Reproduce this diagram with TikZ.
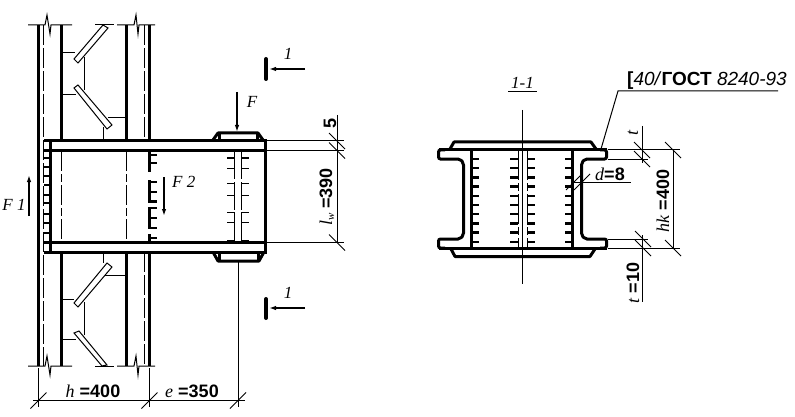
\documentclass[tikz,border=0pt]{standalone}
\usepackage{fontspec}
\setmainfont{Liberation Sans}
\newfontfamily\letterfont{Liberation Serif}
\usetikzlibrary{arrows.meta}
\tikzset{
  thickline/.style={line width=3pt},
  midline/.style={line width=2.3pt},
  thinline/.style={line width=1pt},
  dashline/.style={line width=1pt,dash pattern=on 20pt off 3pt on 8pt off 3pt},
  forceline/.style={line width=2pt,-{Latex[length=7pt,width=4.5pt]}},
  lab/.style={inner sep=0pt,font=\fontsize{18}{18}\selectfont\bfseries},
  letter/.style={inner sep=0pt,font=\fontsize{17}{17}\selectfont\letterfont\itshape}
}
% slanted dimension ticks
\newcommand{\ticka}[2]{\draw[thinline] (#1-8,#2+8) -- (#1+8,#2-8);}
\newcommand{\tickb}[2]{\draw[thinline] (#1-8,#2-8) -- (#1+8,#2+8);}
\newcommand{\lett}[1]{{\mdseries\letterfont\itshape #1}}
\begin{document}
\begin{tikzpicture}[x=1pt,y=-1pt]
\useasboundingbox (0,0) rectangle (795,417);
% columns
\foreach \xa in {38.5,61.5,126.5,149.5} {
  \draw[thickline] (\xa,25) -- (\xa,141);
  \draw[thickline] (\xa,252) -- (\xa,366);
}
\draw[thickline] (38.5,141) -- (38.5,252);
\draw[thinline,dash pattern=on 20pt off 3pt] (43.5,25) -- (43.5,366);
\draw[thinline,dash pattern=on 20pt off 3pt] (144.5,25) -- (144.5,141);
\draw[thinline,dash pattern=on 20pt off 3pt] (144.5,252) -- (144.5,366);
\foreach \ya in {25,366} {
  \draw[thinline] (28,\ya) -- (45,\ya) -- (47,\ya-10) -- (50,\ya+9) -- (51,\ya) -- (72,\ya);
  \draw[thinline] (95,\ya) -- (114,\ya);
  \draw[thinline] (117,\ya) -- (134,\ya) -- (136,\ya-10) -- (138,\ya+9) -- (139,\ya) -- (155,\ya);
}
% braces and gussets
\draw[thinline] (74,59) -- (78,63) -- (108,28) -- (103,25) -- cycle;
\draw[thinline] (74,88) -- (78,85) -- (112,125) -- (107,129) -- cycle;
\draw[thinline] (74,303) -- (78,307) -- (112,267) -- (107,263) -- cycle;
\draw[thinline] (74,333) -- (79,331) -- (107,365) -- (102,366) -- cycle;
\draw[thinline] (61.5,53) -- (75,53) (84,57) -- (84,90) (61.5,95) -- (76,95);
\draw[thinline] (108,118) -- (126.5,118) (103,127) -- (103,141);
\draw[thinline] (105,275) -- (126.5,275) (103,252) -- (103,263);
\draw[thinline] (61.5,299) -- (74,299) (84,302) -- (84,335) (61.5,339) -- (76,339);
% beam
\draw[thickline] (44,141) -- (265,141) -- (265,252) -- (44,252);
\draw[thickline] (44,150.5) -- (265,150.5) (44,242) -- (265,242);
\draw[thickline] (50,141) -- (50,252);
\foreach \xa in {61.5,126.5} {
  \draw[dashline] (\xa,151) -- (\xa,242);
}
\foreach \ya in {158,167,176,185,195,203,214,223,233} {
  \draw[midline] (44,\ya) -- (50,\ya);
}
% welds on the column flange
\draw[thickline] (149.5,150) -- (149.5,172) (149.5,180) -- (149.5,202.5) (149.5,207) -- (149.5,229) (149.5,234) -- (149.5,242);
\foreach \ya in {155,163,182,192,201.5,208,218,228,238} {
  \draw[midline] (149.5,\ya) -- (157,\ya);
}
% bolts
\draw[thinline,dash pattern=on 28pt off 3pt] (234.5,151) -- (234.5,242);
\draw[thinline,dash pattern=on 28pt off 3pt] (241,151) -- (241,242);
\foreach \ya in {158,168,183,195,212,222} {
  \draw[thinline] (227,\ya) -- (234.5,\ya) (241,\ya) -- (249,\ya);
}
\draw[midline] (227,241) -- (234.5,241) (241,241) -- (249,241);
% cap plates
\draw[thickline,line join=round] (213,140) -- (218,133) -- (258,133) -- (263,140);
\draw[thickline] (219.5,133) -- (219.5,140) (257,133) -- (257,140);
\draw[thickline,line join=round] (213,252) -- (218,261) -- (259,261) -- (264,252);
\draw[thickline] (219.5,252) -- (219.5,261) (258,252) -- (258,261);
% forces
\draw[forceline] (237,92) -- (237,132);
\draw[forceline] (29,216) -- (29,175);
\draw[forceline] (164,177) -- (164,216);
\node[letter] (labF) at (252,102) {F};
\node[letter] (labFa) at (14,205) {F 1};
\node[letter,anchor=west] (labFb) at (172,182) {F 2};
% section marks
\draw[line width=4pt,line cap=round] (266,59) -- (266,79);
\draw[line width=4pt,line cap=round] (266,299) -- (266,318);
\draw[midline,-{Latex[length=7pt,width=4.5pt]}] (305,69) -- (269,69);
\draw[midline,-{Latex[length=7pt,width=4.5pt]}] (305,308) -- (269,308);
\node[letter] (labSecA) at (288,54) {1};
\node[letter] (labSecB) at (288,293) {1};
% dimensions of the beam
\draw[thinline] (267,141) -- (344,141) (267,150.5) -- (344,150.5) (267,242.5) -- (344,242.5);
\draw[thinline] (337,115) -- (337,242.5);
\tickb{337}{141} \tickb{337}{150.5} \tickb{337}{242.5}
\node[lab,rotate=90] (labFive) at (330,123) {5};
\node[lab,rotate=90] (labLw) at (327,197) {\lett{l\raisebox{-2pt}{\fontsize{11}{11}\selectfont w}} =390};
\draw[thinline] (38.5,368) -- (38.5,407) (149.5,368) -- (149.5,407) (238,262) -- (238,407);
\draw[thinline] (33,400.5) -- (245,400.5);
\ticka{38.5}{400.5} \ticka{149.5}{400.5} \ticka{238}{400.5}
\node[lab] (labH) at (93,391) {\lett{h} =400};
\node[lab] (labE) at (192,391) {\lett{e} =350};
% section 1-1
\node[letter] (labSec) at (522.5,83) {1-1};
\draw[thinline] (508,92) -- (537,92);
\draw[thinline] (522,110) -- (522,284);
\draw[thinline,dash pattern=on 30pt off 3pt on 8pt off 3pt] (518,150) -- (518,248);
\draw[thinline,dash pattern=on 30pt off 3pt on 8pt off 3pt] (527,150) -- (527,248);
\draw[thickline,rounded corners=2pt] (445,150) -- (438.5,150) -- (438.5,159) -- (460,159) -- (463.5,163) -- (463.5,235) -- (460,239) -- (438.5,239) -- (438.5,248) -- (445,248);
\draw[thickline,rounded corners=2pt] (600,150) -- (606.5,150) -- (606.5,159) -- (585,159) -- (581.5,163) -- (581.5,235) -- (585,239) -- (606.5,239) -- (606.5,248) -- (600,248);
\draw[thickline] (438.5,150) -- (606.5,150) (438.5,248) -- (606.5,248);
\draw[thickline] (471,150) -- (471,248) (572.7,150) -- (572.7,248);
\draw[thickline,line join=round] (450,149) -- (454,142) -- (591,142) -- (596,149);
\draw[thickline,line join=round] (451,249) -- (455,256.5) -- (590,256.5) -- (595,249);
\foreach \ya in {159,168.2,177.4,186.6,195.8,205,214.2,223.4,232.6,241.8} {
  \draw[midline] (471,\ya) -- (479,\ya) (510,\ya) -- (518,\ya) (527,\ya) -- (535,\ya) (565,\ya) -- (572.7,\ya);
}
% leader
\draw[thinline] (601,149) -- (618,91) -- (778,91);
\node[inner sep=0pt,anchor=south west,font=\fontsize{19}{19}\selectfont] (labGost) at (627,89.5) {\textbf{[}\textit{40/}\textbf{ГОСТ} \textit{8240-93}};
% dimensions of the section
\draw[thinline] (608,150) -- (680,150) (608,159) -- (648,159) (608,239) -- (648,239) (608,248) -- (680,248);
\draw[thinline] (642,126) -- (642,163) (673,150) -- (673,248) (642.5,235) -- (642.5,302);
\tickb{642}{150} \tickb{642}{159} \tickb{643}{239} \tickb{643}{248} \tickb{673}{150} \tickb{673}{248}
\node[lab,rotate=90] (labT) at (633,133) {\lett{t}};
\node[lab,rotate=90] (labTa) at (633,283) {\lett{t} =10};
\node[lab,rotate=90] (labHk) at (663,201) {\lett{hk} =400};
\draw[thinline] (572.7,182) -- (631,182);
\ticka{574}{182} \ticka{582}{182}
\node[lab] (labD) at (610,174) {\lett{d}=8};
\end{tikzpicture}
\end{document}
